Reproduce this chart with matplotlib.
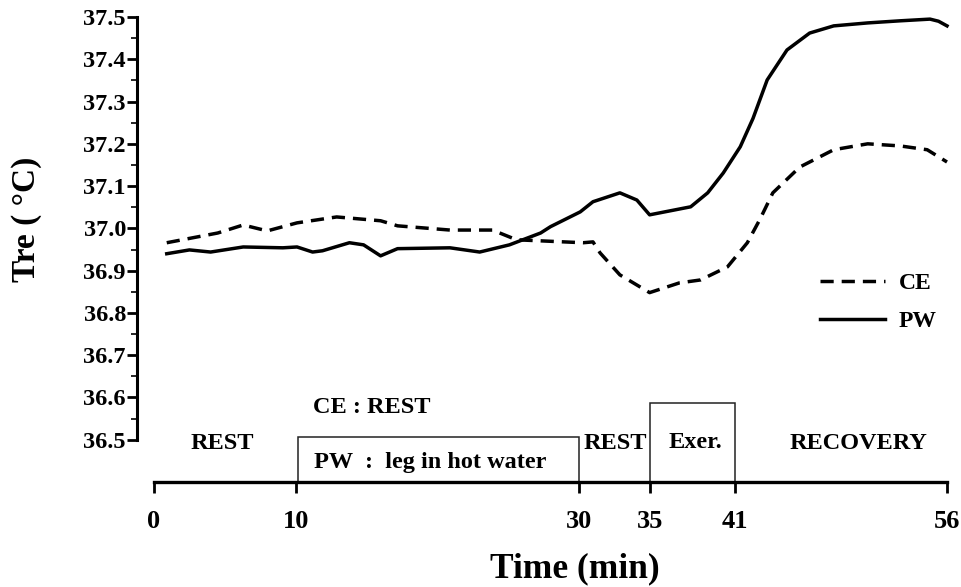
import numpy as np
import matplotlib
matplotlib.use("Agg")
import matplotlib.pyplot as plt
from matplotlib.patches import Rectangle

plt.rcParams['font.family'] = ['Liberation Serif', 'DejaVu Serif']
plt.rcParams['font.weight'] = 'bold'

# rectal temperature, control exercise (CE)
ce_time = [0.9, 4.5, 6.3, 8.0, 10.1, 12.9, 16.0, 17.2, 20.9, 23.9, 25.6, 30.3, 31.0,
           31.5, 32.9, 35.0, 37.1, 38.6, 40.5, 41.9, 42.8, 43.7, 45.6, 48.0, 50.4,
           52.7, 54.6, 56.0]
ce_temp = [36.966, 36.989, 37.008, 36.994, 37.013, 37.027, 37.018, 37.006, 36.996,
           36.996, 36.973, 36.966, 36.968, 36.942, 36.890, 36.848, 36.871, 36.878,
           36.909, 36.966, 37.022, 37.084, 37.145, 37.186, 37.200, 37.195, 37.186,
           37.157]

# rectal temperature, leg in hot water (PW)
pw_time = [0.9, 2.5, 4.0, 6.3, 9.1, 10.1, 11.2, 11.9, 13.8, 14.8, 16.0, 17.2, 20.9,
           23.0, 25.1, 27.3, 28.0, 30.1, 31.0, 32.9, 34.1, 35.0, 37.9, 39.1, 40.2,
           41.4, 42.3, 43.3, 44.7, 46.3, 48.0, 50.4, 52.7, 54.8, 55.4, 56.0]
pw_temp = [36.940, 36.949, 36.944, 36.956, 36.954, 36.956, 36.944, 36.947, 36.966,
           36.961, 36.935, 36.952, 36.954, 36.944, 36.961, 36.989, 37.004, 37.039,
           37.063, 37.084, 37.067, 37.032, 37.051, 37.084, 37.131, 37.193, 37.260,
           37.351, 37.422, 37.462, 37.479, 37.486, 37.491, 37.495, 37.490, 37.479]

x_ticks = [0, 10, 30, 35, 41, 56]
y_ticks = np.round(np.arange(36.5, 37.51, 0.1), 1)

# protocol boxes: start, end, top
box_start = [10.2, 35.0]
box_end = [30.0, 41.0]
box_top = [36.506, 36.586]

fig = plt.figure(figsize=(9.62, 5.87), dpi=100)
ax = fig.add_axes([137/962, 1-482/587, 810/962, 465/587])
ax.set_xlim(-1.2, 56)
ax.set_ylim(36.4, 37.5)

ax.plot(ce_time, ce_temp, color='black', lw=2.5, ls=(0, (3.8, 2.3)), label='CE',
        clip_on=False)
ax.plot(pw_time, pw_temp, color='black', lw=2.5, label='PW', clip_on=False)

for s, e, t in zip(box_start, box_end, box_top):
    ax.add_patch(Rectangle((s, 36.4), e - s, t - 36.4, fill=False,
                           edgecolor='#222222', lw=1.1, clip_on=False))

ax.spines['top'].set_visible(False)
ax.spines['right'].set_visible(False)
ax.spines['left'].set_bounds(36.5, 37.5)
ax.spines['bottom'].set_bounds(0, 56)
ax.spines['left'].set_linewidth(2.2)
ax.spines['bottom'].set_linewidth(2.4)

ax.set_yticks(y_ticks)
ax.set_yticklabels(['%.1f' % v for v in y_ticks], fontsize=17.5, fontweight='bold')
ax.set_yticks(np.arange(36.55, 37.5, 0.1), minor=True)
ax.set_xticks(x_ticks)
ax.set_xticklabels([str(v) for v in x_ticks], fontsize=19, fontweight='bold')
ax.tick_params(axis='y', which='major', length=7, width=2, pad=1)
ax.tick_params(axis='y', which='minor', length=4, width=1.2)
ax.tick_params(axis='x', which='major', length=8, width=2, pad=12)

txt = dict(fontsize=17.5, fontweight='bold', ha='center', va='baseline')
ax.text(4.8, 36.478, 'REST', **txt)
ax.text(15.4, 36.564, 'CE : REST', **txt)
ax.text(19.5, 36.432, 'PW  :  leg in hot water', **txt)
ax.text(32.6, 36.478, 'REST', **txt)
ax.text(38.2, 36.480, 'Exer.', **txt)
ax.text(49.75, 36.478, 'RECOVERY', **txt)

fig.text(575/962, 1-577/587, 'Time (min)', fontsize=25.5, fontweight='bold',
         ha='center', va='baseline')
fig.text(27/962, 1-219/587, 'Tre ( °C)', fontsize=24, fontweight='bold',
         ha='center', va='center', rotation=90)

ax.legend(loc='upper left', bbox_to_anchor=(0.843, 0.45), frameon=False,
          fontsize=17, handlelength=2.75, handletextpad=0.6, labelspacing=0.7,
          borderpad=0, borderaxespad=0)

fig.savefig('out.png', dpi=100)
